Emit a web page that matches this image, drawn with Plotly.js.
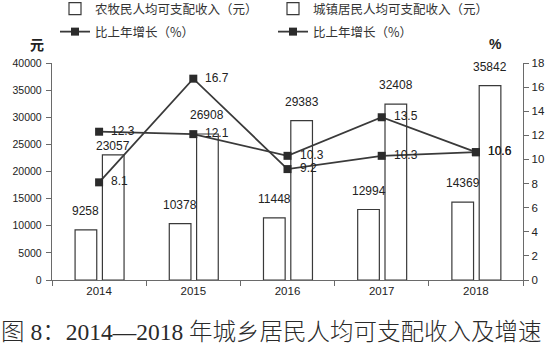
<!DOCTYPE html>
<html>
<head>
<meta charset="utf-8">
<script src="https://cdn.plot.ly/plotly-3.0.1.min.js"></script>
<style>html,body{margin:0;padding:0;background:#fff;}#chart{width:550px;height:356px;}</style>
</head>
<body>
<div id="chart"></div>
<script>
// ---- data ----
const years = ["2014", "2015", "2016", "2017", "2018"];
const ruralIncome = [9258, 10378, 11448, 12994, 14369];
const urbanIncome = [23057, 26908, 29383, 32408, 35842];
const ruralGrowth = [12.3, 12.1, 10.3, 13.5, 10.6];
const urbanGrowth = [8.1, 16.7, 9.2, 10.3, 10.6];
const seriesNames = ["农牧民人均可支配收入（元）", "城镇居民人均可支配收入（元）", "比上年增长（%）", "比上年增长（%）"];
const chartTitle = "图 8：2014—2018 年城乡居民人均可支配收入及增速";

// ---- layout / style ----
const W = 550, H = 356;
const M = {l: 52, r: 27, t: 63, b: 76, autoexpand: false};
const plotW = W - M.l - M.r;
const plotH = H - M.t - M.b;
const catPx = plotW / years.length;
const barW = 0.23;
const ruralOff = -0.255, urbanOff = 0.035;
const urbanLabelShift = [2, 12, 12, 12, 12];
const ruralLabelShift = [12, 12, 12, 12, 12];
const lineColor = "#3a3a3a";
const numFont = "Liberation Sans, Arial, sans-serif";
const cjkFont = "Noto Sans CJK SC, sans-serif";

const barStyle = {color: "#ffffff", line: {color: "#3a3a3a", width: 1.2}};
const lineStyle = {color: lineColor, width: 1.8};
const markerStyle = {symbol: "square", size: 8, color: "#2b2b2b", line: {color: "#2b2b2b", width: 0}};

const traces = [
  {type: "bar", x: years, y: ruralIncome, name: seriesNames[0], width: barW, offset: ruralOff,
   marker: barStyle, legend: "legend", hoverinfo: "skip"},
  {type: "bar", x: years, y: urbanIncome, name: seriesNames[1], width: barW, offset: urbanOff,
   marker: barStyle, legend: "legend", hoverinfo: "skip"},
  {type: "scatter", mode: "lines+markers", x: years, y: ruralGrowth, yaxis: "y2", name: seriesNames[2],
   line: lineStyle, marker: markerStyle, legend: "legend2", hoverinfo: "skip"},
  {type: "scatter", mode: "lines+markers", x: years, y: urbanGrowth, yaxis: "y2", name: seriesNames[3],
   line: lineStyle, marker: markerStyle, legend: "legend2", hoverinfo: "skip"}
];

const annotations = [];
years.forEach((yr, i) => {
  annotations.push({x: i, y: ruralIncome[i], xref: "x", yref: "y", text: String(ruralIncome[i]),
    showarrow: false, xanchor: "center", yanchor: "bottom",
    xshift: (ruralOff + barW / 2) * catPx, yshift: ruralLabelShift[i] - 2,
    font: {family: numFont, size: 12, color: "#222"}});
  annotations.push({x: i, y: urbanIncome[i], xref: "x", yref: "y", text: String(urbanIncome[i]),
    showarrow: false, xanchor: "center", yanchor: "bottom",
    xshift: (urbanOff + barW / 2) * catPx, yshift: urbanLabelShift[i] - 2,
    font: {family: numFont, size: 12, color: "#222"}});
  [ruralGrowth, urbanGrowth].forEach(arr => {
    annotations.push({x: i, y: arr[i], xref: "x", yref: "y2", text: arr[i].toFixed(1),
      showarrow: false, xanchor: "left", yanchor: "middle", xshift: 10, yshift: 1,
      font: {family: numFont, size: 12, color: "#222"}});
  });
});
annotations.push({xref: "paper", yref: "paper", x: (37 - M.l) / plotW, y: (H - M.b - 44) / plotH,
  text: "<b>元</b>", showarrow: false, xanchor: "center", yanchor: "middle",
  font: {family: cjkFont, size: 14, color: "#222"}});
annotations.push({xref: "paper", yref: "paper", x: (495 - M.l) / plotW, y: (H - M.b - 44) / plotH,
  text: "<b>%</b>", showarrow: false, xanchor: "center", yanchor: "middle",
  font: {family: numFont, size: 14, color: "#222"}});

const legendCommon = {
  orientation: "h", xanchor: "left", yanchor: "middle",
  x: (55 - M.l) / plotW, entrywidth: 173, entrywidthmode: "pixels",
  font: {family: cjkFont, size: 12.5, color: "#333"}, bgcolor: "rgba(0,0,0,0)",
  traceorder: "normal", itemclick: false
};

const layout = {
  width: W, height: H, margin: M,
  paper_bgcolor: "#fff", plot_bgcolor: "#fff",
  barmode: "overlay", showlegend: true,
  title: {text: chartTitle, x: 0.002, xanchor: "left", xref: "container",
    y: (H - 332) / H, yanchor: "middle", yref: "container",
    font: {family: "Liberation Serif, Noto Sans CJK SC, serif", size: 23.5, color: "#2a2a2a", weight: 300}},
  xaxis: {type: "category", range: [-0.5, years.length - 0.5], showline: true, linecolor: "#6a6a6a", linewidth: 1.2,
    ticks: "outside", tickson: "boundaries", ticklen: 5, tickcolor: "#6a6a6a",
    showgrid: false, zeroline: false,
    tickfont: {family: numFont, size: 11.5, color: "#222"}},
  yaxis: {range: [0, 40000], dtick: 5000, tickformat: "d", showline: true, linecolor: "#6a6a6a", linewidth: 1.2,
    ticks: "outside", ticklen: 5, tickcolor: "#6a6a6a", showgrid: false, zeroline: false,
    tickfont: {family: numFont, size: 10.5, color: "#222"}, ticklabelstandoff: 2},
  yaxis2: {range: [0, 18], dtick: 2, overlaying: "y", side: "right", showline: true,
    linecolor: "#6a6a6a", linewidth: 1.2, ticks: "outside", ticklen: 5, tickcolor: "#6a6a6a",
    showgrid: false, zeroline: false,
    tickfont: {family: numFont, size: 11.5, color: "#222"}},
  legend: Object.assign({}, legendCommon, {y: (H - M.b - 9) / plotH}),
  legend2: Object.assign({}, legendCommon, {y: (H - M.b - 32) / plotH}),
  annotations: annotations
};

Plotly.newPlot("chart", traces, layout, {staticPlot: true, displayModeBar: false});
</script>
</body>
</html>
